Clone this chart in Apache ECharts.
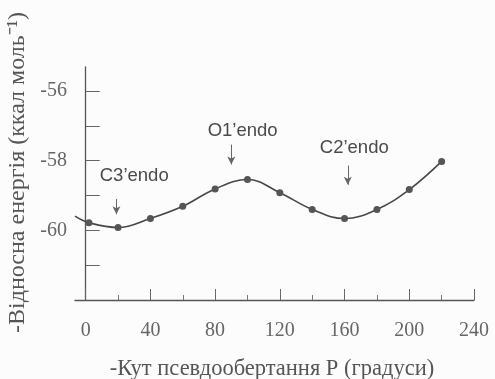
<!DOCTYPE html>
<html>
<head>
<meta charset="utf-8">
<script src="https://cdn.jsdelivr.net/npm/echarts@6/dist/echarts.min.js"></script>
<style>
  html, body { margin: 0; padding: 0; background: #fbfcfb; }
  #container { width: 495px; height: 379px; }
</style>
</head>
<body>
<div id="container"></div>
<script>
// pseudorotation angle P (degrees) and relative energy (kcal/mol)
const angles = [2, 20, 40, 60, 80, 100, 120, 140, 160, 180, 200, 220];
const energy = [-59.78, -59.92, -59.66, -59.31, -58.81, -58.54, -58.92, -59.40, -59.66, -59.40, -58.83, -58.02];
// curve enters from the left edge of the plot
const leadIn = [-6.6, -59.59];

const xTicks = [0, 40, 80, 120, 160, 200, 240];
const xMinorTicks = [20, 60, 100, 140, 180, 220];
const yLabels = [-60, -58, -56];
const yTicks = [-61, -60, -59, -58, -57, -56];

// conformer annotations
const confNames = ["C3’endo", "O1’endo", "C2’endo"];
const confText = [[30, -58.44], [97, -57.14], [166, -57.62]];
const arrowTop = [[19, -59.1], [90, -57.54], [162, -58.14]];
const arrowEnd = [[19, -59.54], [90, -58.11], [162, -58.69]];

const ink = '#474747';
const serif = 'Liberation Serif';

let dom = document.getElementById('container');
let myChart = echarts.init(dom);

let lineData = [{ value: leadIn, symbol: 'none' }];
angles.forEach(function (a, i) {
    lineData.push([a, energy[i]]);
});

let option = {
    animation: false,
    grid: { left: 75, right: 21, top: 67, bottom: 79, outerBoundsMode: 'none' },
    xAxis: [
        {
            type: 'value',
            min: -6.6,
            max: 240,
            splitLine: { show: false },
            axisLine: { lineStyle: { color: '#555', width: 1.3 } },
            axisTick: { inside: true, length: 11, customValues: xTicks, lineStyle: { color: '#666' } },
            axisLabel: {
                customValues: xTicks,
                margin: 21,
                color: '#666',
                fontFamily: serif,
                fontSize: 20
            },
            name: '-Кут псевдообертання Р (градуси)',
            nameLocation: 'middle',
            nameGap: 58,
            nameTextStyle: { color: '#555', fontFamily: serif, fontSize: 22.5, padding: [0, 5, 0, 0] }
        },
        {
            type: 'value',
            position: 'bottom',
            min: -6.6,
            max: 240,
            splitLine: { show: false },
            axisLine: { show: false },
            axisLabel: { show: false },
            axisTick: { inside: true, length: 5, customValues: xMinorTicks, lineStyle: { color: '#777' } }
        }
    ],
    yAxis: {
        type: 'value',
        min: -62,
        max: -55.31,
        splitLine: { show: false },
        axisLine: { lineStyle: { color: '#555', width: 1.3 } },
        axisTick: { inside: true, length: 14, customValues: yTicks, lineStyle: { color: '#666' } },
        axisLabel: {
            customValues: yLabels,
            margin: 8,
            color: '#666',
            fontFamily: serif,
            fontSize: 20
        },
        name: '-Відносна енергія (ккал моль⁻¹)',
        nameLocation: 'middle',
        nameRotate: 90,
        nameGap: 38,
        nameTextStyle: { color: '#555', fontFamily: serif, fontSize: 24, padding: [0, 0, 0, 22] }
    },
    series: [
        {
            type: 'line',
            data: lineData,
            smooth: 0.4,
            symbol: 'circle',
            symbolSize: 7,
            lineStyle: { color: ink, width: 1.6 },
            itemStyle: { color: '#555' },
            markLine: {
                silent: true,
                symbol: ['none', 'arrow'],
                symbolSize: [6, 8],
                lineStyle: { color: '#666', width: 1, type: 'solid' },
                label: { show: false },
                data: arrowTop.map(function (p, i) {
                    return [{ coord: p }, { coord: arrowEnd[i] }];
                })
            },
            markPoint: {
                silent: true,
                symbol: 'circle',
                symbolSize: 0,
                label: {
                    show: true,
                    position: 'inside',
                    color: '#4a4a4a',
                    fontFamily: 'Liberation Sans',
                    fontSize: 18.5,
                    formatter: function (p) { return p.name; }
                },
                data: confNames.map(function (n, i) {
                    return { name: n, coord: confText[i] };
                })
            }
        }
    ]
};
myChart.setOption(option);
</script>
</body>
</html>
